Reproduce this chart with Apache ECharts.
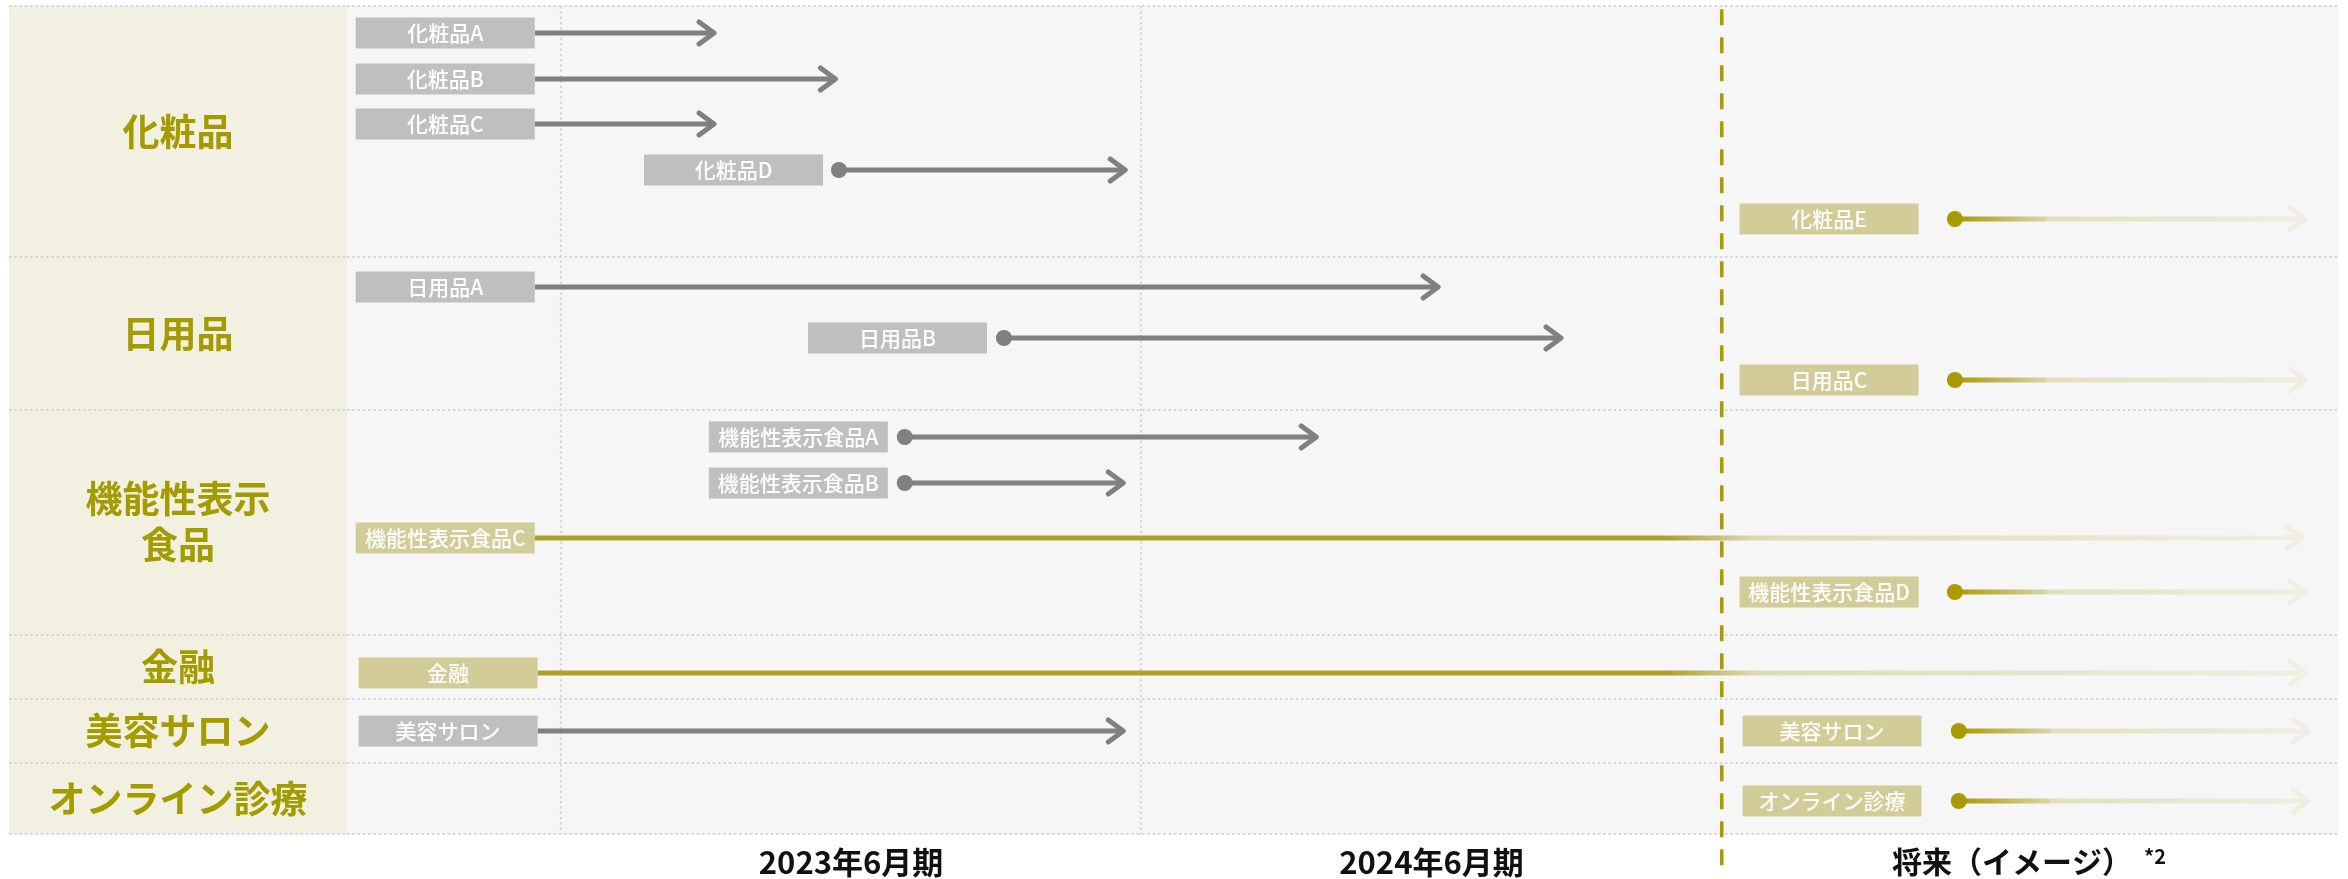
<!DOCTYPE html>
<html>
<head>
<meta charset="utf-8">
<script src="https://cdn.jsdelivr.net/npm/echarts@6/dist/echarts.min.js"></script>
<style>
  html, body { margin: 0; padding: 0; background: #ffffff; }
  #chart { width: 2348px; height: 879px; }
</style>
</head>
<body>
<div id="chart"></div>
<script>
// Business segments in the left column and their vertical extents (lane units, top = 0)
const groupNames = ['化粧品', '日用品', '機能性表示\n食品', '金融', '美容サロン', 'オンライン診療'];
const groupEdges = [0, 5.46, 8.78, 13.67, 15.07, 16.46, 18];

// Timeline items. x values are months counted from July 2022 (start of the 2023年6月期 year)
const itemNames = ['化粧品A', '化粧品B', '化粧品C', '化粧品D', '化粧品E',
  '日用品A', '日用品B', '日用品C',
  '機能性表示食品A', '機能性表示食品B', '機能性表示食品C', '機能性表示食品D',
  '金融', '美容サロン', '美容サロン', 'オンライン診療'];
const itemLanes   = [0.58, 1.58, 2.57, 3.57, 4.62, 6.10, 7.21, 8.12, 9.36, 10.38, 11.57, 12.73, 14.49, 15.76, 15.76, 17.29];
const itemLabelAt = [-4.24, -4.24, -4.24, 1.72, 24.37, -4.24, 5.11, 24.37, 3.06, 3.06, -4.24, 24.37, -4.18, -4.18, 24.43, 24.43];
const itemStart   = [null, null, null, 5.75, 28.82, null, 9.16, 28.82, 7.11, 7.11, null, 28.82, null, null, 28.9, 28.9];
const itemEnd     = [3.22, 5.73, 3.22, 11.72, 36.11, 18.19, 20.73, 36.11, 15.67, 11.68, 36.05, 36.11, 36.11, 11.68, 36.18, 36.18];
const itemStatus  = ['done', 'done', 'done', 'done', 'plan', 'done', 'done', 'plan', 'done', 'done', 'ongoing', 'plan', 'ongoing', 'done', 'plan', 'plan'];

// Fiscal-year boundaries, the start of the outlook period and the axis labels
const periodBoundaries = [0, 12];
const futureBoundary = 24;
const futureLineSpan = [0.07, 18.72];
const tickValues = [6, 18, 30];
const tickLabels = ['2023年6月期', '2024年6月期', '将来（イメージ）'];
const tickNotes = ['', '', '*2'];

const FONT = '"Noto Sans CJK JP", "Noto Sans", sans-serif';
const C = {
  panel: '#f1f0e1', plot: '#f6f6f6', sep: '#d6d6d6', grid: '#d9d9d9',
  groupText: '#a39b00',
  grayBox: '#bfbfbf', grayLine: '#808080',
  oliveBox: '#d1cc98', oliveLine: '#aca12b', oliveDot: '#a89a00',
  paleMid: '#dedab6', paleEnd: '#efeee1',
  boundary: '#a89c00'
};
const BOX_W = 179, BOX_H = 31, LINE_W = 5, DOT_R = 8;

const chart = echarts.init(document.getElementById('chart'));

function dottedLine(x1, y1, x2, y2, color) {
  return {
    type: 'line', silent: true,
    shape: { x1, y1, x2, y2 },
    style: { stroke: color, lineWidth: 2.2, lineDash: [2.5, 2.8] }
  };
}

// Horizontal separators between the segment rows, drawn across one grid
function separatorRender(params, api) {
  const cs = params.coordSys;
  const y = Math.round(api.coord([api.value(0), api.value(1)])[1]);
  return dottedLine(cs.x, y, cs.x + cs.width, y, C.sep);
}

function groupRender(params, api) {
  const p = api.coord([api.value(0), api.value(1)]);
  return {
    type: 'text', silent: true,
    style: {
      text: groupNames[api.value(2)],
      x: p[0], y: p[1],
      align: 'center', verticalAlign: 'middle',
      fill: C.groupText, fontFamily: FONT, fontWeight: 'bold', fontSize: 37, lineHeight: 46
    }
  };
}

function gridLineRender(params, api) {
  const top = api.coord([api.value(0), 0]);
  const bottom = api.coord([api.value(0), 18]);
  const x = Math.round(top[0]);
  return dottedLine(x, top[1], x, bottom[1], C.grid);
}

function boundaryRender(params, api) {
  const a = api.coord([api.value(0), api.value(1)]);
  const b = api.coord([api.value(0), api.value(2)]);
  return {
    type: 'line', silent: true,
    shape: { x1: a[0], y1: a[1], x2: b[0], y2: b[1] },
    style: { stroke: C.boundary, lineWidth: 3.6, lineDash: [16, 12] }
  };
}

function itemRender(params, api) {
  const i = api.value(3);
  const status = itemStatus[i];
  const y = Math.round(api.coord([0, api.value(1)])[1]);
  const boxX = api.coord([api.value(0), 0])[0];
  const tipX = api.coord([api.value(2), 0])[0];
  const hasDot = itemStart[i] !== null;
  const startX = hasDot ? api.coord([itemStart[i], 0])[0] : boxX + BOX_W;
  const vx = tipX - 2.5;
  const children = [];

  let lineColor, headColor, dotColor, boxColor;
  if (status === 'done') {
    lineColor = headColor = dotColor = C.grayLine;
    boxColor = C.grayBox;
  } else if (status === 'ongoing') {
    const bx = api.coord([futureBoundary, 0])[0];
    const span = vx - startX;
    const s1 = Math.max(0, Math.min(1, (bx - 55 - startX) / span));
    const s2 = Math.max(0, Math.min(1, (bx + 35 - startX) / span));
    lineColor = {
      type: 'linear', global: true, x: startX, y: 0, x2: vx, y2: 0,
      colorStops: [
        { offset: 0, color: C.oliveLine }, { offset: s1, color: C.oliveLine },
        { offset: s2, color: C.paleMid }, { offset: 1, color: C.paleEnd }
      ]
    };
    headColor = C.paleEnd;
    boxColor = C.oliveBox;
  } else {
    lineColor = {
      type: 'linear', global: true, x: startX, y: 0, x2: vx, y2: 0,
      colorStops: [
        { offset: 0, color: C.oliveDot }, { offset: 0.26, color: '#d9d4a8' },
        { offset: 0.265, color: '#e2dfbf' }, { offset: 1, color: C.paleEnd }
      ]
    };
    headColor = C.paleEnd;
    dotColor = C.oliveDot;
    boxColor = C.oliveBox;
  }

  children.push({
    type: 'line', silent: true,
    shape: { x1: startX, y1: y, x2: vx - 1, y2: y },
    style: { stroke: lineColor, lineWidth: LINE_W }
  });
  if (hasDot) {
    children.push({
      type: 'circle', silent: true,
      shape: { cx: startX, cy: y, r: DOT_R },
      style: { fill: dotColor }
    });
  }
  children.push({
    type: 'polyline', silent: true,
    shape: { points: [[vx - 15, y - 11], [vx, y], [vx - 15, y + 11]] },
    style: { stroke: headColor, lineWidth: LINE_W, lineCap: 'round', lineJoin: 'round', fill: null }
  });
  children.push({
    type: 'rect', silent: true,
    shape: { x: boxX, y: y - BOX_H / 2, width: BOX_W, height: BOX_H },
    style: { fill: boxColor }
  });
  children.push({
    type: 'text', silent: true,
    style: {
      text: itemNames[i], x: boxX + BOX_W / 2, y: y + 0.5,
      align: 'center', verticalAlign: 'middle',
      fill: '#ffffff', fontFamily: FONT, fontWeight: 500, fontSize: 21
    }
  });
  return { type: 'group', children };
}

const yAxisBase = { type: 'value', inverse: true, min: 0, max: 18, show: false };

chart.setOption({
  animation: false,
  backgroundColor: '#ffffff',
  grid: [
    { left: 9, width: 338, top: 6, bottom: 45, show: true, backgroundColor: C.panel, borderWidth: 0 },
    { left: 347, right: 10, top: 6, bottom: 45, show: true, backgroundColor: C.plot, borderWidth: 0 }
  ],
  xAxis: [
    { gridIndex: 0, type: 'value', min: 0, max: 1, show: false },
    {
      gridIndex: 1, type: 'value', min: -4.42, max: 36.74,
      axisLine: { show: false }, axisTick: { show: false }, splitLine: { show: false },
      axisLabel: {
        customValues: tickValues,
        margin: 12,
        color: '#111111', fontFamily: FONT, fontWeight: 'bold', fontSize: 31, lineHeight: 32,
        formatter: function (v) {
          const k = tickValues.indexOf(v);
          if (k < 0) return '';
          if (tickNotes[k]) return '{pad| }{main|' + tickLabels[k] + '}{note|' + tickNotes[k] + '}';
          return tickLabels[k];
        },
        rich: {
          pad: { width: 34, fontSize: 30, lineHeight: 32 },
          main: { color: '#111111', fontFamily: FONT, fontWeight: 'bold', fontSize: 30, lineHeight: 32 },
          note: { color: '#111111', fontFamily: FONT, fontWeight: 'bold', fontSize: 20, lineHeight: 32,
                  verticalAlign: 'top', padding: [0, 0, 0, 12] }
        }
      }
    }
  ],
  yAxis: [
    Object.assign({ gridIndex: 0 }, yAxisBase),
    Object.assign({ gridIndex: 1 }, yAxisBase)
  ],
  series: [
    {
      type: 'custom', name: 'panelRows', xAxisIndex: 0, yAxisIndex: 0, z: 2,
      renderItem: separatorRender,
      data: groupEdges.map(e => [0.5, e])
    },
    {
      type: 'custom', name: 'segments', xAxisIndex: 0, yAxisIndex: 0, z: 3,
      renderItem: groupRender,
      data: groupNames.map((n, k) => [0.5, (groupEdges[k] + groupEdges[k + 1]) / 2, k])
    },
    {
      type: 'custom', name: 'plotRows', xAxisIndex: 1, yAxisIndex: 1, z: 2,
      renderItem: separatorRender,
      data: groupEdges.map(e => [0, e])
    },
    {
      type: 'custom', name: 'periods', xAxisIndex: 1, yAxisIndex: 1, z: 2,
      renderItem: gridLineRender,
      data: periodBoundaries.map(m => [m])
    },
    {
      type: 'custom', name: 'items', xAxisIndex: 1, yAxisIndex: 1, z: 4,
      renderItem: itemRender,
      data: itemNames.map((n, k) => [itemLabelAt[k], itemLanes[k], itemEnd[k], k])
    },
    {
      type: 'custom', name: 'outlook', xAxisIndex: 1, yAxisIndex: 1, z: 5,
      renderItem: boundaryRender,
      data: [[futureBoundary, futureLineSpan[0], futureLineSpan[1]]]
    }
  ]
});
</script>
</body>
</html>
